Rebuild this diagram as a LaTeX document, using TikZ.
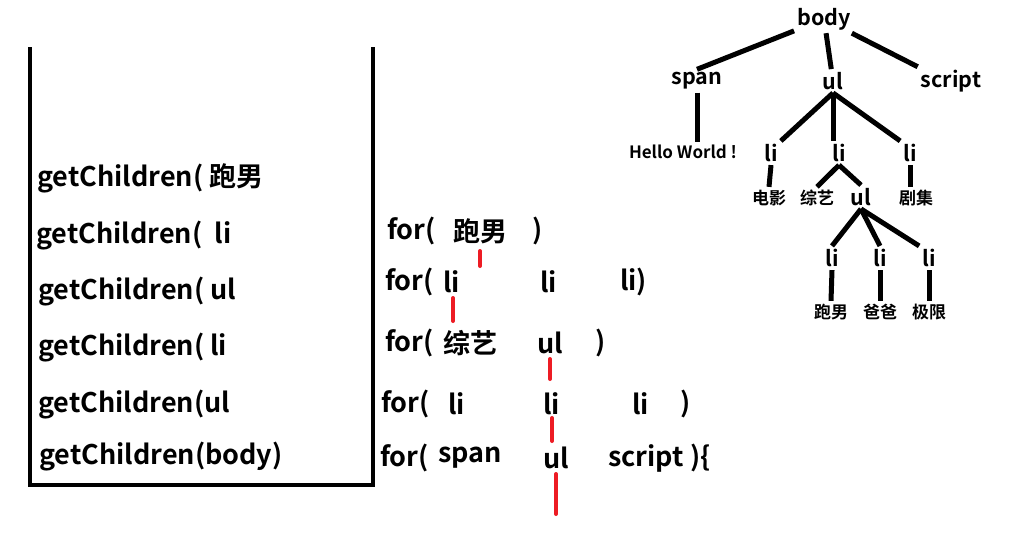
\documentclass[tikz,border=0pt]{standalone}
\usepackage{fontspec}
\setmainfont{Noto Sans CJK SC}[BoldFont={* Bold}]
\definecolor{paintred}{RGB}{237,28,36}

\begin{document}
\begin{tikzpicture}[x=1pt, y=-1pt, font=\bfseries,
    stackline/.style ={line width=4pt},
    call/.style ={anchor=west, inner sep=0pt, font=\bfseries\fontsize{27}{27}\selectfont},
    tag/.style ={inner sep=3pt, font=\bfseries\fontsize{21.5}{21.5}\selectfont},
    leaf/.style ={inner sep=3pt, font=\bfseries\fontsize{17}{17}\selectfont},
    edge/.style ={line width=5pt},
    redline/.style ={line width=4pt, paintred, line cap=round}]
   \useasboundingbox (0,0) rectangle (1011,538);
   % the stack
   \draw[stackline] (30,47) -- (30,485) -- (373,485) -- (373,47);
   \node[call] (c6) at (37,178) {getChildren( 跑男};
   \node[call] (c5) at (36,236) {getChildren(\ \ li};
   \node[call] (c4) at (38,292) {getChildren(\ ul};
   \node[call] (c3) at (38,348) {getChildren( li};
   \node[call] (c2) at (38,405) {getChildren(ul};
   \node[call] (c1) at (39,457) {getChildren(body)};
   % the loops
   \node[call] (f5) at (387,231) {for(};
   \node[call] at (453,231) {跑男};
   \node[call] at (532,231) {)};
   \node[call] (f4) at (385,282) {for(};
   \node[call] at (443,282) {li};
   \node[call] at (540,282) {li};
   \node[call] at (620,282) {li)};
   \node[call] (f3) at (385,343) {for(};
   \node[call] at (443,343) {综艺};
   \node[call] at (537,343) {ul};
   \node[call] at (595,343) {)};
   \node[call] (f2) at (381,404) {for(};
   \node[call] at (448,404) {li};
   \node[call] at (543,404) {li};
   \node[call] at (632,404) {li};
   \node[call] at (680,404) {)};
   \node[call] (f1) at (380,458) {for(};
   \node[call] at (438,458) {span};
   \node[call] at (543,458) {ul};
   \node[call] at (608,458) {script};
   \node[call] at (690,458) {)\{};
   \draw[redline] (480,251) -- (480,266);
   \draw[redline] (453,298) -- (453,321);
   \draw[redline] (550,359) -- (550,379);
   \draw[redline] (552,418) -- (552,441);
   \draw[redline] (556,474) -- (556,514);
   % the tree
   \node[tag] (body) at (824,19) {body};
   \node[tag] (span) at (697,81) {span};
   \node[tag] (ul) at (833,81) {ul};
   \node[tag] (script) at (951,81) {script};
   \node[leaf] (hello) at (683,152) {Hello World !};
   \node[tag] (li1) at (771,153) {li};
   \node[tag] (li2) at (839,153) {li};
   \node[tag] (li3) at (910,153) {li};
   \node[leaf] (movie) at (769,198) {电影};
   \node[leaf] (show) at (817,198) {综艺};
   \node[tag] (ulb) at (861,197) {ul};
   \node[leaf] (series) at (916,198) {剧集};
   \node[tag] (lia) at (832,258) {li};
   \node[tag] (lib) at (880,258) {li};
   \node[tag] (lic) at (929,258) {li};
   \node[leaf] (run) at (831,312) {跑男};
   \node[leaf] (dad) at (880,312) {爸爸};
   \node[leaf] (limit) at (929,312) {极限};
   \draw[edge] (body) -- (span.north);
   \draw[edge] (body) -- (ul);
   \draw[edge] (body) -- (script.north west);
   \draw[edge] (span.south) -- (span.south |- hello.north);
   \draw[edge] (ul.south) -- (li1.north east);
   \draw[edge] (ul.south) -- (ul.south |- li2.north);
   \draw[edge] (ul.south) -- (li3.north west);
   \draw[edge] (li1.south) -- (movie.north);
   \draw[edge] (li2.south) -- (show.north);
   \draw[edge] (li2.south) -- (ulb.north);
   \draw[edge] (li3.south) -- (li3.south |- series.north);
   \draw[edge] (ulb.south) -- (lia.north);
   \draw[edge] (ulb.south) -- (lib.north);
   \draw[edge] (ulb.south) -- (lic.north west);
   \draw[edge] (lia.south) -- (run.north);
   \draw[edge] (lib.south) -- (dad.north);
   \draw[edge] (lic.south) -- (limit.north);
\end{tikzpicture}
\end{document}
